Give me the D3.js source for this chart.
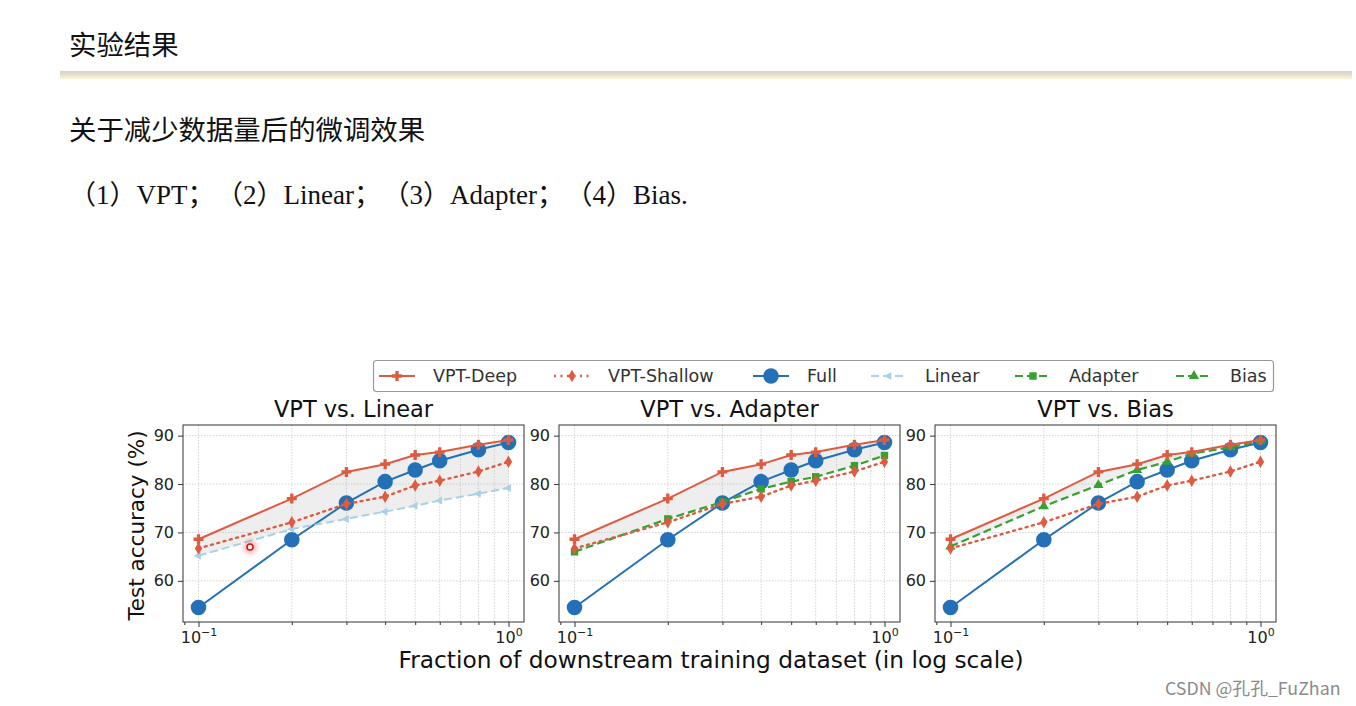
<!DOCTYPE html>
<html>
<head>
<meta charset="utf-8">
<script src="https://cdn.jsdelivr.net/npm/d3@7"></script>
<style>
  body { margin: 0; background: #fff; }
  svg { display: block; }
</style>
</head>
<body>
<svg id="chart"></svg>
<script>
// data
var fractions = [0.1, 0.2, 0.3, 0.4, 0.5, 0.6, 0.8, 1.0];
var vptDeep = [68.6, 77.0, 82.5, 84.1, 86.0, 86.6, 88.1, 89.1];
var vptShallow = [66.7, 72.1, 75.9, 77.4, 79.7, 80.7, 82.6, 84.6];
var full = [54.5, 68.5, 76.1, 80.5, 82.9, 84.8, 87.1, 88.6];
var linear = [65.2, 70.7, 72.8, 74.3, 75.5, 76.6, 78.0, 79.2];
var adapter = [66.0, 72.8, 76.3, 79.0, 80.5, 81.5, 83.8, 85.9];
var bias = [67.1, 75.4, 79.8, 82.9, 84.6, 86.3, 87.6, 88.9];

var panelTitles = ["VPT vs. Linear", "VPT vs. Adapter", "VPT vs. Bias"];
var legendLabels = ["VPT-Deep", "VPT-Shallow", "Full", "Linear", "Adapter", "Bias"];
var methodList = ["（1）VPT；", "（2）Linear；", "（3）Adapter；", "（4）Bias."];
var yTicks = [60, 70, 80, 90];
var xMajor = [0.1, 1];
var xMinor = [0.09, 0.2, 0.3, 0.4, 0.5, 0.6, 0.7, 0.8, 0.9];

var width = 1356;
var height = 706;

var svg = d3.select("#chart").attr("width", width).attr("height", height);

/* ---- slide header ---- */
var defs = svg.append("defs");
var grad = defs.append("linearGradient").attr("id", "bar").attr("x1", 0).attr("y1", 0).attr("x2", 0).attr("y2", 1);
grad.append("stop").attr("offset", "0%").attr("stop-color", "#d2d2d2");
grad.append("stop").attr("offset", "45%").attr("stop-color", "#e4dfc9");
grad.append("stop").attr("offset", "100%").attr("stop-color", "#fbf5dc");
svg.append("rect").attr("x", 60).attr("y", 71).attr("width", 1292).attr("height", 8).attr("fill", "url(#bar)");

var cjk = "'Noto Sans CJK SC', 'Noto Sans', sans-serif";
svg.append("text").attr("x", 69).attr("y", 55)
  .style("font-family", cjk).style("font-size", "27.4px").attr("fill", "#111")
  .text("实验结果");
svg.append("text").attr("x", 69).attr("y", 140)
  .style("font-family", cjk).style("font-size", "27.4px").attr("fill", "#111")
  .text("关于减少数据量后的微调效果");
var ml = svg.append("text").attr("x", 69).attr("y", 204)
  .style("font-family", "'Liberation Serif', 'Noto Sans CJK SC', serif").style("font-size", "27px").attr("fill", "#111");
ml.selectAll("tspan").data(methodList).enter().append("tspan")
  .attr("dx", (d, i) => (i === 0 ? 0 : 15))
  .text((d) => d);

/* ---- chart ---- */
var font = "'DejaVu Sans', sans-serif";
var deepColor = "#dd5b40";
var fullColor = "#2470b6";
var linearColor = "#a9d0e6";
var greenColor = "#35a12e";

var series = {
  deep: { values: vptDeep, color: deepColor, dash: null, width: 2, symbol: d3.symbolCross, size: 55 },
  shallow: { values: vptShallow, color: deepColor, dash: "2,4.5", width: 2.4, symbol: d3.symbolDiamond, size: 45 },
  full: { values: full, color: fullColor, dash: null, width: 2, symbol: d3.symbolCircle, size: 190 },
  linear: { values: linear, color: linearColor, dash: "8,4", width: 2, symbol: d3.symbolTriangle, size: 28, rotate: -90 },
  adapter: { values: adapter, color: greenColor, dash: "8,4", width: 2.2, symbol: d3.symbolSquare, size: 55 },
  bias: { values: bias, color: greenColor, dash: "8,4", width: 2.2, symbol: d3.symbolTriangle, size: 45 }
};
var panelCompare = ["linear", "adapter", "bias"];

var panelW = 341;
var panelH = 197;
var panelTop = 425;
var panelLefts = [183, 559, 935];

var xScale = d3.scaleLog()
  .domain([Math.pow(10, -1.05), Math.pow(10, 0.05)])
  .range([0, panelW]);
var yScale = d3.scaleLinear().domain([51.5, 92.2]).range([panelH, 0]);

var sup = { "0.1": "\u22121", "1": "0" };

var drawSeries = (g, s) => {
  var pts = fractions.map((f, i) => [f, s.values[i]]);
  var line = d3.line().x((d) => xScale(d[0])).y((d) => yScale(d[1]));
  g.append("path").attr("d", line(pts))
    .attr("fill", "none").attr("stroke", s.color)
    .attr("stroke-width", s.width)
    .attr("stroke-dasharray", s.dash)
    .attr("stroke-linecap", s.dash && s.dash.startsWith("2") ? "round" : "butt");
  g.selectAll(null).data(pts).enter().append("path")
    .attr("d", d3.symbol().type(s.symbol).size(s.size))
    .attr("transform", (d) => "translate(" + xScale(d[0]) + "," + yScale(d[1]) + ")" + (s.rotate ? " rotate(" + s.rotate + ")" : ""))
    .attr("fill", s.color);
};

panelLefts.forEach((left, p) => {
  var g = svg.append("g").attr("transform", "translate(" + left + "," + panelTop + ")");

  // grid
  g.selectAll(".vg").data(xMajor.concat(xMinor.slice(1))).enter().append("line")
    .attr("x1", (d) => xScale(d)).attr("x2", (d) => xScale(d))
    .attr("y1", 0).attr("y2", panelH)
    .attr("stroke", "#cfcfcf").attr("stroke-width", 0.9).attr("stroke-dasharray", "1.5,1.5");
  g.selectAll(".hg").data(yTicks).enter().append("line")
    .attr("x1", 0).attr("x2", panelW)
    .attr("y1", (d) => yScale(d)).attr("y2", (d) => yScale(d))
    .attr("stroke", "#cfcfcf").attr("stroke-width", 0.9).attr("stroke-dasharray", "1.5,1.5");

  // shaded gap between VPT-Deep and the compared method
  var comp = series[panelCompare[p]];
  var area = d3.area()
    .x((d, i) => xScale(fractions[i]))
    .y0((d, i) => yScale(comp.values[i]))
    .y1((d) => yScale(d));
  g.append("path").attr("d", area(vptDeep)).attr("fill", "#bdbdbd").attr("fill-opacity", 0.25);

  drawSeries(g, series.full);
  drawSeries(g, comp);
  drawSeries(g, series.shallow);
  drawSeries(g, series.deep);

  // frame
  g.append("rect").attr("width", panelW).attr("height", panelH)
    .attr("fill", "none").attr("stroke", "#333").attr("stroke-width", 1);

  // y axis
  var yAxis = d3.axisLeft(yScale).tickValues(yTicks).tickSize(5).tickPadding(4);
  var ya = g.append("g").call(yAxis);
  ya.select(".domain").remove();
  ya.selectAll("line").attr("stroke", "#333");
  ya.selectAll("text").style("font-family", font).style("font-size", "16px").attr("fill", "#222");

  // x axis: minor then major
  var xMin = d3.axisBottom(xScale).tickValues(xMinor).tickSize(3).tickFormat("");
  var xm = g.append("g").attr("transform", "translate(0," + panelH + ")").call(xMin);
  xm.select(".domain").remove();
  xm.selectAll("line").attr("stroke", "#333");

  var xAxis = d3.axisBottom(xScale).tickValues(xMajor).tickSize(5).tickPadding(4).tickFormat("");
  var xa = g.append("g").attr("transform", "translate(0," + panelH + ")").call(xAxis);
  xa.select(".domain").remove();
  xa.selectAll("line").attr("stroke", "#333");
  xa.selectAll(".tick").append("text")
    .attr("y", 21).attr("text-anchor", "middle").attr("fill", "#222")
    .style("font-family", font).style("font-size", "16px")
    .each(function (d) {
      var t = d3.select(this);
      t.append("tspan").text("10");
      t.append("tspan").attr("dy", -7).style("font-size", "11px").text(sup[String(d)]);
    });

  // title
  g.append("text").attr("x", panelW / 2).attr("y", -8).attr("text-anchor", "middle")
    .style("font-family", font).style("font-size", "22.5px").attr("fill", "#111")
    .text(panelTitles[p]);
});

// axis labels
svg.append("text")
  .attr("transform", "translate(144," + (panelTop + panelH / 2 + 2) + ") rotate(-90)")
  .attr("text-anchor", "middle")
  .style("font-family", font).style("font-size", "21.5px").attr("fill", "#111")
  .text("Test accuracy (%)");
svg.append("text").attr("x", 711).attr("y", 668).attr("text-anchor", "middle")
  .style("font-family", font).style("font-size", "23.3px").attr("fill", "#111")
  .text("Fraction of downstream training dataset (in log scale)");

/* ---- legend ---- */
var legendKeys = ["deep", "shallow", "full", "linear", "adapter", "bias"];
var legendCenters = [397, 572, 771, 889, 1033, 1194];
var lg = svg.append("g");
lg.append("rect").attr("x", 373.5).attr("y", 360.5).attr("width", 900).attr("height", 31)
  .attr("rx", 3).attr("fill", "#fff").attr("stroke", "#999").attr("stroke-width", 1.2);
legendKeys.forEach((k, i) => {
  var s = series[k];
  var cx = legendCenters[i];
  var cy = 376;
  lg.append("line").attr("x1", cx - 18).attr("x2", cx + 18).attr("y1", cy).attr("y2", cy)
    .attr("stroke", s.color).attr("stroke-width", s.width).attr("stroke-dasharray", s.dash);
  lg.append("path").attr("d", d3.symbol().type(s.symbol).size(s.size))
    .attr("transform", "translate(" + cx + "," + cy + ")" + (s.rotate ? " rotate(" + s.rotate + ")" : ""))
    .attr("fill", s.color);
  lg.append("text").attr("x", cx + 36).attr("y", cy + 6)
    .style("font-family", font).style("font-size", "17.5px").attr("fill", "#333")
    .text(legendLabels[i]);
});

/* ---- mouse pointer mark and watermark ---- */
var glow = defs.append("radialGradient").attr("id", "glow");
glow.append("stop").attr("offset", "0%").attr("stop-color", "#ff3b3b").attr("stop-opacity", 0.5);
glow.append("stop").attr("offset", "100%").attr("stop-color", "#ff3b3b").attr("stop-opacity", 0);
svg.append("circle").attr("cx", 250).attr("cy", 547).attr("r", 10).attr("fill", "url(#glow)");
svg.append("circle").attr("cx", 250).attr("cy", 547).attr("r", 3).attr("fill", "#fff")
  .attr("stroke", "#e01010").attr("stroke-width", 1.6);

svg.append("text").attr("x", 1165).attr("y", 695)
  .style("font-family", "'Noto Sans CJK SC', sans-serif").style("font-size", "17.8px").attr("fill", "#8a8a8a")
  .text("CSDN @孔孔_FuZhan");
</script>
</body>
</html>
